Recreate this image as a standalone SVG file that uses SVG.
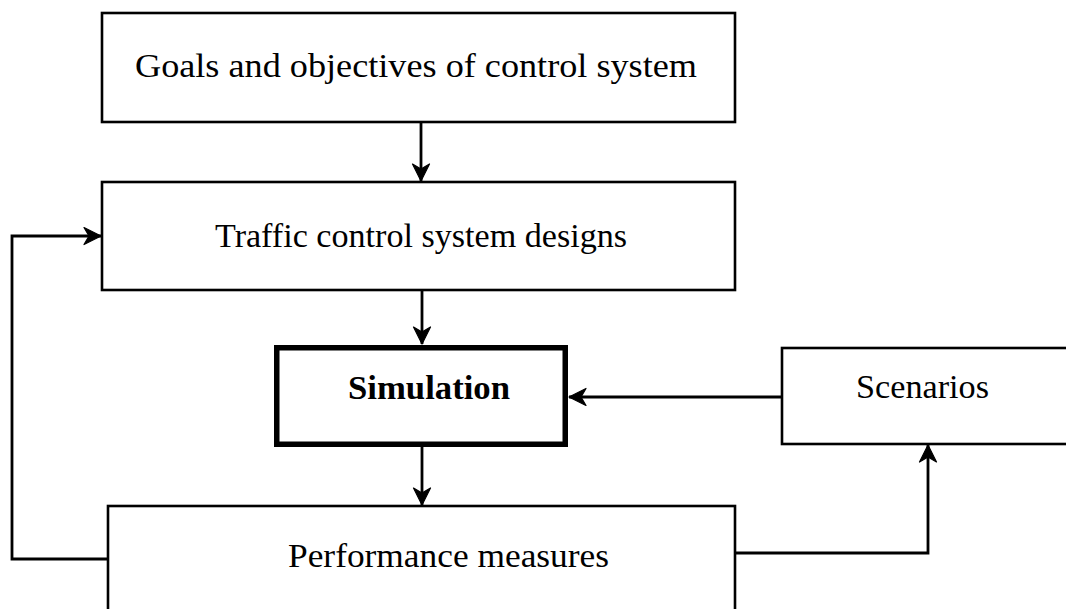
<svg xmlns="http://www.w3.org/2000/svg" width="1066" height="609" viewBox="0 0 1066 609">
<style>
  .box { fill: #fff; stroke: #000; stroke-width: 2.6; }
  .bold { fill: #fff; stroke: #000; stroke-width: 5.5; }
  .lbl { font-family: "Liberation Serif", "Times New Roman", serif; font-size: 34px; fill: #000; }
  .b { font-weight: bold; }
  .conn { fill: none; stroke: #000; stroke-width: 2.8; }
</style>
<defs>
  <marker id="arr" markerUnits="userSpaceOnUse" markerWidth="24" markerHeight="24" refX="20" refY="12" orient="auto" viewBox="0 0 24 24">
    <path d="M3,3.5 L20,12 L3,20.5 L8,12 z" fill="#000" stroke="#000" stroke-width="1.2" stroke-linejoin="round"/>
  </marker>
</defs>
<g id="goals">
  <rect class="box" x="102" y="13" width="633" height="109"/>
  <text class="lbl" x="135" y="77" textLength="562" lengthAdjust="spacingAndGlyphs">Goals and objectives of control system</text>
</g>
<g id="traffic">
  <rect class="box" x="102" y="182" width="633" height="108"/>
  <text class="lbl" x="215" y="247" textLength="412" lengthAdjust="spacingAndGlyphs">Traffic control system designs</text>
</g>
<g id="simulation">
  <rect class="bold" x="276.75" y="347.75" width="288.5" height="96.5"/>
  <text class="lbl b" x="348" y="399" textLength="162" lengthAdjust="spacingAndGlyphs">Simulation</text>
</g>
<g id="scenarios">
  <rect class="box" x="782" y="348" width="300" height="96"/>
  <text class="lbl" x="856" y="398" textLength="133" lengthAdjust="spacingAndGlyphs">Scenarios</text>
</g>
<g id="performance">
  <rect class="box" x="108" y="506" width="627" height="120"/>
  <text class="lbl" x="288" y="567" textLength="321" lengthAdjust="spacingAndGlyphs">Performance measures</text>
</g>
<g id="connectors">
  <path class="conn" d="M421,122 L421,181" marker-end="url(#arr)"/>
  <path class="conn" d="M422,290 L422,344" marker-end="url(#arr)"/>
  <path class="conn" d="M422,447 L422,505" marker-end="url(#arr)"/>
  <path class="conn" d="M782,397 L569,397" marker-end="url(#arr)"/>
  <path class="conn" d="M108,559 L12,559 L12,236 L101,236" marker-end="url(#arr)"/>
  <path class="conn" d="M735,553 L928,553 L928,445" marker-end="url(#arr)"/>
</g>
</svg>
